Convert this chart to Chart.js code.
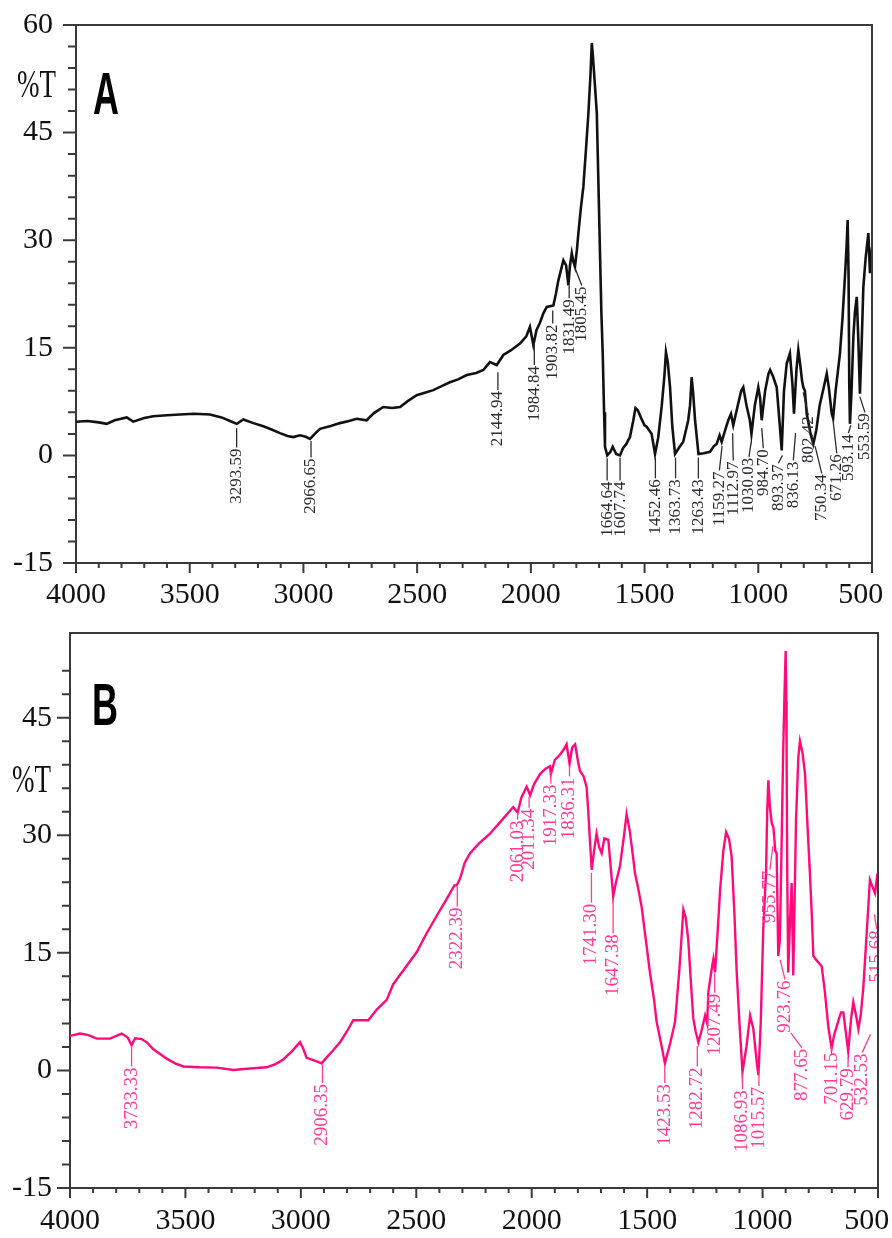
<!DOCTYPE html>
<html>
<head>
<meta charset="utf-8">
<script src="https://cdn.jsdelivr.net/npm/chart.js@4.4.1/dist/chart.umd.min.js"></script>
<style>
  html, body { margin: 0; padding: 0; background: #fff; }
  #page { position: relative; width: 892px; height: 1238px; overflow: hidden; background: #fff; }
  #page canvas { position: absolute; left: 0; }
  .panel { position: absolute; z-index: 2; font-family: "Liberation Sans", Arial, sans-serif; font-weight: bold;
           font-size: 60px; line-height: 1; transform-origin: 0 0; transform: scaleX(0.6); color: #000; }
  .unit { position: absolute; z-index: 2; font-family: "Liberation Serif", serif; font-size: 30px; line-height: 1;
          transform-origin: 0 0; transform: scale(0.9, 1.36); color: #111; }
</style>
</head>
<body>
<div id="page">
  <canvas id="chartA" width="892" height="615" style="top:0"></canvas>
  <canvas id="chartB" width="892" height="623" style="top:615px"></canvas>
  <div class="panel" style="left:93px; top:64px">A</div>
  <div class="unit" style="left:17px; top:63px">%T</div>
  <div class="panel" style="left:92px; top:675px">B</div>
  <div class="unit" style="left:12px; top:758px">%T</div>
</div>
<script>
// tick labels
const xTicks = [4000, 3500, 3000, 2500, 2000, 1500, 1000, 500];
const yTicksA = [-15, 0, 15, 30, 45, 60];
const yTicksB = [-15, 0, 15, 30, 45];

// spectrum A (wavenumber, %T)
const wnA = [
  4000, 3950, 3900, 3865, 3830, 3777, 3748, 3700, 3660, 3600,
  3543, 3480, 3411, 3360, 3323, 3293, 3264, 3220, 3176, 3140,
  3103, 3070, 3045, 3015, 2990, 2971, 2950, 2927, 2880, 2839,
  2800, 2766, 2722, 2690, 2649, 2610, 2575, 2540, 2502, 2470,
  2429, 2390, 2356, 2320, 2282, 2240, 2209, 2180, 2150, 2121,
  2090, 2048, 2020, 2004, 1989, 1975, 1960, 1945, 1930, 1901,
  1890, 1879, 1868, 1857, 1845, 1835, 1828, 1820, 1813, 1806,
  1798, 1791, 1780, 1769, 1758, 1747, 1738, 1732, 1728, 1725,
  1718, 1710, 1703, 1696, 1690, 1684, 1678, 1674, 1664, 1650,
  1640, 1625, 1608, 1595, 1580, 1564, 1550, 1540, 1530, 1515,
  1500, 1491, 1469, 1454, 1440, 1425, 1413, 1406, 1398, 1388,
  1378, 1366, 1350, 1330, 1308, 1300, 1293, 1286, 1278, 1263,
  1240, 1212, 1195, 1183, 1170, 1161, 1145, 1132, 1120, 1110,
  1090, 1075, 1066, 1052, 1037, 1030, 1015, 1000, 992, 985,
  970, 955, 948, 935, 919, 905, 897, 887, 875, 861,
  850, 843, 832, 824, 815, 808, 802, 795, 787, 770,
  758, 745, 730, 712, 699, 690, 677, 671, 660, 641,
  630, 619, 612, 607, 603, 600, 597, 590, 582, 575,
  567, 560, 553, 546, 538, 528, 516, 509, 503, 500
];
const tA = [
  4.7, 4.8, 4.6, 4.4, 4.9, 5.3, 4.7, 5.2, 5.45, 5.6,
  5.7, 5.8, 5.7, 5.3, 4.8, 4.4, 5.0, 4.5, 4.05, 3.6,
  3.1, 2.7, 2.55, 2.8, 2.6, 2.3, 3.0, 3.7, 4.1, 4.5,
  4.8, 5.1, 4.9, 5.9, 6.75, 6.6, 6.75, 7.6, 8.4, 8.7,
  9.1, 9.7, 10.2, 10.6, 11.2, 11.5, 11.9, 13.0, 12.6, 14.0,
  14.6, 15.6, 16.6, 17.9, 15.4, 17.5, 18.5, 19.8, 20.7, 20.9,
  22.5, 24.4, 25.8, 27.2, 26.5, 23.7, 26.5, 28.2, 27.0, 26.3,
  28.5, 31.0, 34.5, 37.5, 42.5, 47.7, 53.0, 57.5, 56.0, 54.7,
  51.5, 47.7, 38.0, 28.2, 20.0, 14.2, 6.0, 1.2, 0.0, 0.5,
  1.2, 0.2, 0.0, 1.0, 1.6, 2.6, 4.8, 6.6, 6.3, 5.2,
  4.2, 4.0, 3.0, 0.2, 2.5, 6.75, 11.0, 14.4, 13.0, 9.5,
  4.0, 0.2, 1.0, 1.9, 4.9, 7.0, 10.9, 8.5, 4.9, 0.2,
  0.3, 0.5, 1.3, 1.6, 2.8, 1.9, 3.6, 4.9, 5.8, 4.2,
  7.0, 9.0, 9.5, 7.0, 4.9, 3.0, 7.0, 9.5, 8.0, 4.9,
  9.0, 11.4, 11.9, 11.0, 9.5, 4.0, 0.7, 9.0, 12.8, 14.2,
  10.0, 5.8, 12.0, 14.7, 12.5, 10.5, 9.5, 9.0, 5.8, 3.0,
  1.6, 3.5, 7.0, 9.5, 11.4, 9.5, 5.8, 5.2, 9.0, 14.2,
  19.0, 24.9, 29.0, 32.8, 25.0, 10.0, 4.4, 9.0, 16.5, 20.0,
  22.1, 16.0, 8.6, 15.0, 23.5, 27.5, 31.0, 25.4, 28.0, 29.0
];
const peaksA = [3293.59, 2966.65, 2144.94, 1984.84, 1903.82, 1831.49, 1805.45, 1664.64,
  1607.74, 1452.46, 1363.73, 1263.43, 1159.27, 1112.97, 1030.03, 984.70, 893.37,
  836.13, 802.42, 750.34, 671.26, 593.14, 553.59];

// spectrum B (wavenumber, %T)
const wnB = [
  4000, 3957, 3920, 3884, 3827, 3776, 3750, 3733, 3718, 3690,
  3668, 3639, 3610, 3581, 3545, 3509, 3440, 3364, 3293, 3220,
  3148, 3110, 3076, 3040, 3004, 2990, 2975, 2946, 2910, 2890,
  2859, 2830, 2800, 2773, 2740, 2708, 2670, 2628, 2600, 2550,
  2498, 2455, 2412, 2370, 2335, 2325, 2310, 2290, 2267, 2230,
  2181, 2130, 2080, 2061, 2045, 2022, 2007, 1990, 1964, 1940,
  1921, 1917, 1900, 1877, 1860, 1849, 1836, 1825, 1812, 1800,
  1791, 1775, 1762, 1755, 1748, 1740, 1730, 1719, 1708, 1697,
  1685, 1668, 1658, 1647, 1635, 1618, 1600, 1589, 1575, 1560,
  1553, 1540, 1524, 1505, 1488, 1470, 1459, 1440, 1423, 1400,
  1379, 1360, 1343, 1333, 1322, 1310, 1300, 1290, 1278, 1265,
  1249, 1240, 1235, 1220, 1213, 1206, 1195, 1184, 1170, 1158,
  1145, 1134, 1122, 1112, 1100, 1087, 1070, 1054, 1040, 1025,
  1018, 1008, 997, 985, 980, 975, 968, 960, 953, 945,
  939, 932, 925, 918, 911, 905, 900, 897, 896, 893,
  889, 880, 874, 867, 855, 845, 838, 827, 816, 805,
  795, 787, 780, 765, 744, 730, 715, 701, 690, 670,
  660, 650, 640, 629, 617, 607, 595, 585, 575, 564,
  550, 535, 525, 513, 505, 500
];
const tB = [
  4.4, 4.7, 4.5, 4.05, 4.05, 4.7, 4.2, 3.2, 4.1, 4.0,
  3.6, 2.7, 2.1, 1.5, 0.9, 0.5, 0.4, 0.35, 0.05, 0.25,
  0.4, 0.8, 1.4, 2.4, 3.6, 2.8, 1.6, 1.3, 0.9, 1.6,
  2.6, 3.6, 5.0, 6.4, 6.4, 6.4, 7.8, 9.0, 11.0, 13.0,
  15.1, 17.5, 19.7, 21.8, 23.6, 23.6, 24.5, 26.5, 27.7, 28.9,
  30.2, 31.9, 33.6, 32.9, 34.8, 36.2, 35.1, 36.5, 37.8, 38.5,
  38.8, 37.8, 39.6, 40.3, 41.0, 41.6, 39.1, 41.2, 41.6, 39.5,
  38.2, 37.5, 36.1, 33.0, 29.4, 25.6, 28.0, 30.2, 28.5, 27.7,
  29.6, 29.4, 26.0, 22.2, 24.0, 26.0, 30.0, 32.7, 30.5, 27.0,
  25.2, 23.4, 20.9, 16.5, 12.5, 9.0, 6.2, 3.5, 0.9, 3.5,
  6.2, 13.0, 20.5, 19.5, 16.7, 11.0, 6.6, 5.0, 3.6, 5.0,
  7.0, 6.0, 10.0, 13.0, 14.2, 12.5, 17.5, 23.0, 28.0, 30.4,
  29.5, 27.3, 20.0, 12.5, 6.0, -0.2, 3.0, 7.0, 5.3, 1.0,
  -0.6, 6.0, 18.0, 25.2, 33.0, 37.0, 33.5, 31.5, 31.0, 28.0,
  27.7, 14.6, 16.7, 28.0, 40.3, 48.0, 53.5, 47.0, 40.8, 25.0,
  12.5, 20.0, 23.9, 12.1, 32.0, 40.0, 42.0, 40.5, 37.8, 31.0,
  25.2, 20.0, 14.6, 14.0, 13.3, 10.0, 5.5, 2.8, 4.5, 6.5,
  7.4, 7.4, 5.0, 2.4, 6.5, 8.7, 7.0, 5.3, 7.0, 10.4,
  17.0, 24.3, 23.5, 22.6, 24.5, 24.0
];
const peaksB = [3733.33, 2906.35, 2322.39, 2061.03, 2011.34, 1917.33, 1836.31, 1741.30,
  1647.38, 1423.53, 1282.72, 1207.49, 1086.93, 1015.57, 955.77, 923.76, 877.65,
  701.15, 629.79, 532.53, 515.68];

// where each peak label sits: leader start, text top (in %T) and text centre (wavenumber)
const leadA = [3.8, 2.0, 11.6, 15.6, 20.2, 23.7, 26.1, -0.4, -0.3, -0.3, -0.3, -0.3,
  1.3, 3.1, 2.1, 3.8, 0.0, 3.1, 8.8, 1.3, 4.9, 4.2, 8.2];
const textTopA = [1.1, -0.3, 9.1, 12.6, 18.4, 21.9, 23.7, -3.5, -3.5, -3.2, -3.2, -3.2,
  -2.1, -0.7, -0.2, 1.0, -1.1, -0.7, 5.6, -2.5, 0.3, 3.1, 6.0];
const textXA = [null, null, null, null, null, null, 1776, null, null, null, null, null,
  1171, 1110, 1041, 978, 912, 846, 780, 721, 655, 604, 531];

const leadB = [3.1, 0.8, 23.5, 33.0, 34.9, 38.1, 38.8, 25.2, 21.8, 0.5, 3.1, 12.4,
  -0.3, -0.1, 28.6, 14.1, 4.8, 3.1, 1.7, 4.6, 19.9];
const textTopB = [0.5, -1.6, 20.9, 32.0, 33.5, 36.6, 37.5, 21.4, 17.5, -1.6, 0.5, 9.9,
  -2.4, -2.0, 25.6, 11.6, 2.9, 2.4, 0.4, 2.3, 18.0];
const textXB = [null, null, null, null, null, null, null, null, null, null, null, null,
  null, null, 968, 903, 830, null, null, 568, 505];

function framePlugin(yMajor) {
  return {
    id: 'frame',
    afterDraw(chart) {
      const { ctx, chartArea: a, scales: { x, y } } = chart;
      ctx.save();
      ctx.strokeStyle = '#3a3a3a';
      ctx.lineWidth = 2;
      ctx.beginPath();
      ctx.moveTo(a.left, a.top);
      ctx.lineTo(a.right, a.top);
      ctx.lineTo(a.right, a.bottom);
      ctx.stroke();
      ctx.beginPath();
      y.ticks.forEach(t => {
        if (Math.abs(t.value % 3) > 0.01) return;
        const py = y.getPixelForValue(t.value);
        const len = yMajor.includes(t.value) ? 13 : 8;
        ctx.moveTo(a.left - len, py);
        ctx.lineTo(a.left, py);
      });
      x.ticks.forEach(t => {
        const px = x.getPixelForValue(t.value);
        const len = xTicks.includes(t.value) ? 10 : 5;
        ctx.moveTo(px, a.bottom);
        ctx.lineTo(px, a.bottom + len);
      });
      ctx.stroke();
      ctx.restore();
    }
  };
}

function peakPlugin(peaks, lead, textTop, textX, color, font) {
  return {
    id: 'peaks',
    afterDatasetsDraw(chart) {
      const { ctx, chartArea: a, scales: { x, y } } = chart;
      ctx.save();
      ctx.beginPath();
      ctx.rect(a.left, a.top, a.right - a.left, a.bottom - a.top);
      ctx.clip();
      ctx.strokeStyle = color;
      ctx.fillStyle = color;
      ctx.lineWidth = 1.3;
      ctx.font = font;
      peaks.forEach((p, i) => {
        const x0 = x.getPixelForValue(p);
        const y0 = y.getPixelForValue(lead[i]);
        const x1 = x.getPixelForValue(textX[i] == null ? p : textX[i]);
        const y1 = y.getPixelForValue(textTop[i]);
        ctx.beginPath();
        ctx.moveTo(x0, y0);
        ctx.lineTo(x1, y1);
        ctx.stroke();
        ctx.save();
        ctx.translate(x1, y1 + 1);
        ctx.rotate(-Math.PI / 2);
        ctx.textAlign = 'right';
        ctx.textBaseline = 'middle';
        ctx.fillText(p.toFixed(2), 0, 0);
        ctx.restore();
      });
      ctx.restore();
    }
  };
}

// last label sits against the page edge, so pad it to pull it left like the original
function xLabel(v) {
  if (!xTicks.includes(v)) return '';
  return v === 500 ? '500\u2007 ' : String(v);
}

function makeChart(id, wn, tr, color, lineW, yMax, yMajor, size, peakPl) {
  const tickFont = { family: 'Liberation Serif', size: 30 };
  return new Chart(document.getElementById(id), {
    type: 'line',
    data: {
      datasets: [{
        data: wn.map((w, i) => ({ x: w, y: tr[i] })),
        borderColor: color,
        borderWidth: lineW,
        pointRadius: 0,
        tension: 0
      }]
    },
    options: {
      responsive: false,
      animation: false,
      layout: { padding: { top: size.top, right: size.right, left: 0, bottom: 0 } },
      plugins: { legend: { display: false }, tooltip: { enabled: false } },
      scales: {
        x: {
          type: 'linear', reverse: true, min: 500, max: 4000,
          grid: { display: false, drawTicks: false },
          border: { display: true, color: '#3a3a3a', width: 2 },
          ticks: {
            stepSize: 100, autoSkip: false, maxRotation: 0, padding: size.xPad,
            color: '#111', font: tickFont, callback: xLabel
          },
          afterFit: s => { s.height = size.xh; s.paddingLeft = 0; s.paddingRight = 0; }
        },
        y: {
          min: -15, max: yMax,
          grid: { display: false, drawTicks: false },
          border: { display: true, color: '#3a3a3a', width: 2 },
          ticks: {
            stepSize: 3, autoSkip: false, padding: size.yPad,
            color: '#111', font: tickFont,
            callback: v => yMajor.includes(v) ? String(v) : ''
          },
          afterFit: s => { s.width = size.yw; s.paddingTop = 0; s.paddingBottom = 0; }
        }
      }
    },
    plugins: [framePlugin(yMajor), peakPl]
  });
}

makeChart('chartA', wnA, tA, '#111111', 2.6, 60, yTicksA,
  { top: 25, right: 20, xh: 52, yw: 76, xPad: 14, yPad: 23 },
  peakPlugin(peaksA, leadA, textTopA, textXA, '#2b2b33', '17px "Liberation Serif"'));

makeChart('chartB', wnB, tB, '#ff0a78', 2.4, 55.8, yTicksB,
  { top: 18, right: 14, xh: 50, yw: 70, xPad: 15, yPad: 18 },
  peakPlugin(peaksB, leadB, textTopB, textXB, '#ff3d96', '19px "Liberation Serif"'));
</script>
</body>
</html>
